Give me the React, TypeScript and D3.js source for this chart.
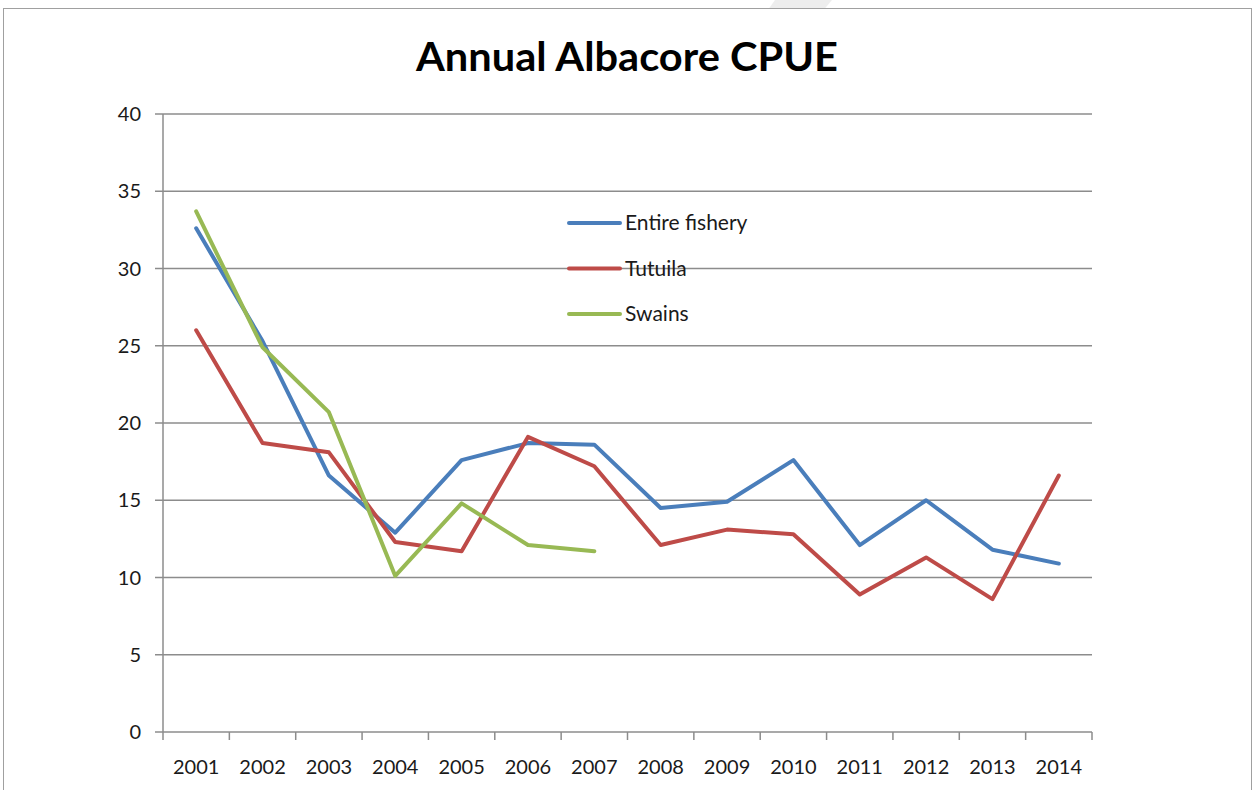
import React from "react";
import * as d3 from "d3";

const years = ["2001","2002","2003","2004","2005","2006","2007","2008","2009","2010","2011","2012","2013","2014"];
const entireFishery = [32.6, 25.3, 16.6, 12.9, 17.6, 18.7, 18.6, 14.5, 14.9, 17.6, 12.1, 15.0, 11.8, 10.9];
const tutuila = [26.0, 18.7, 18.1, 12.3, 11.7, 19.1, 17.2, 12.1, 13.1, 12.8, 8.9, 11.3, 8.6, 16.6];
const swains = [33.7, 24.9, 20.7, 10.1, 14.8, 12.1, 11.7];
const yTicks = [0, 5, 10, 15, 20, 25, 30, 35, 40];

const series = [
  { name: "Entire fishery", values: entireFishery, color: "#4a7ebb" },
  { name: "Tutuila", values: tutuila, color: "#be4b48" },
  { name: "Swains", values: swains, color: "#98b954" },
];

const W = 1253, H = 790;
const left = 163, right = 1092, top = 114, bottom = 732;
const font = "Lato, 'Open Sans', sans-serif";

export default function App() {
  const x = d3.scaleBand<string>().domain(years).range([left, right]).paddingInner(0).paddingOuter(0);
  const y = d3.scaleLinear().domain([0, 40]).range([bottom, top]);
  const line = d3.line<number>().x((_, i) => (x(years[i]) as number) + x.bandwidth() / 2).y((d) => y(d));
  const gridColor = "#8c8c8c";
  return (
    <svg width={W} height={H} style={{ position: "absolute", left: 0, top: 0, background: "#fff" }}>
      <polygon points="775,0 832,0 812,24 758,24" fill="#e6e6e6" opacity={0.7} />
      <rect x={3.5} y={8.5} width={1248} height={800} fill="#fff" stroke="#a0a0a0" strokeWidth={1} />
      <text x={627} y={71} textAnchor="middle" fontFamily={font} fontWeight="bold" fontSize={40} fill="#000" textLength={422} lengthAdjust="spacingAndGlyphs">
        Annual Albacore CPUE
      </text>
      {yTicks.map((t) => (
        <g key={t}>
          <line x1={155} x2={right} y1={y(t)} y2={y(t)} stroke={gridColor} strokeWidth={1.5} />
          <text x={141} y={y(t) + 7} textAnchor="end" fontFamily={font} fontSize={20} fill="#1a1a1a">{t}</text>
        </g>
      ))}
      <line x1={left} x2={left} y1={top} y2={bottom} stroke={gridColor} strokeWidth={1.5} />
      {years.map((yr) => (
        <line key={"t" + yr} x1={(x(yr) as number)} x2={(x(yr) as number)} y1={bottom} y2={bottom + 8} stroke={gridColor} strokeWidth={1.5} />
      ))}
      <line x1={right} x2={right} y1={bottom} y2={bottom + 8} stroke={gridColor} strokeWidth={1.5} />
      {years.map((yr) => (
        <text key={yr} x={(x(yr) as number) + x.bandwidth() / 2} y={774} textAnchor="middle" fontFamily={font} fontSize={20} fill="#1a1a1a">{yr}</text>
      ))}
      {series.map((s) => (
        <path key={s.name} d={line(s.values) || ""} fill="none" stroke={s.color} strokeWidth={4} strokeLinejoin="round" strokeLinecap="round" />
      ))}
      {series.map((s, i) => (
        <g key={"lg" + s.name}>
          <line x1={569} x2={620} y1={223 + i * 45.5} y2={223 + i * 45.5} stroke={s.color} strokeWidth={4} strokeLinecap="round" />
          <text x={625} y={223 + i * 45.5 + 7} fontFamily={font} fontSize={21} fill="#1a1a1a">{s.name}</text>
        </g>
      ))}
    </svg>
  );
}
